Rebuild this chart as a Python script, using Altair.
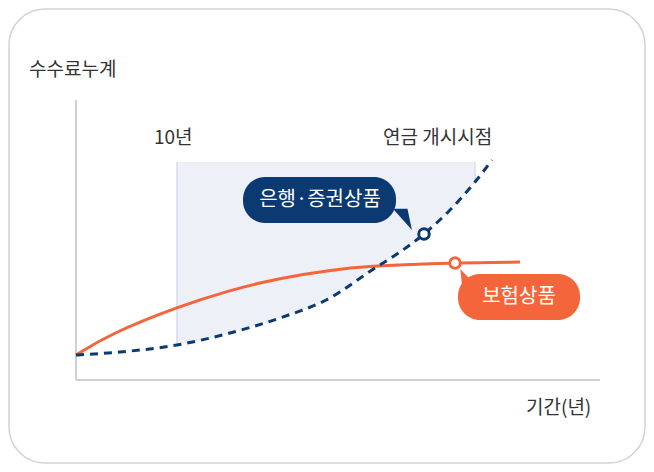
import altair as alt
import pandas as pd

# 그림 좌표(픽셀 기준) 위에 그린 개념도
FONT = "Noto Sans CJK KR"

blue_x = [76, 120, 177, 230, 280, 330, 372, 400, 424, 450, 475, 492]
blue_y = [355, 352, 345, 333, 318, 298, 270, 252, 234, 210, 182, 160]
orange_x = [76, 110, 177, 230, 280, 330, 372, 420, 455, 520]
orange_y = [355, 334, 307, 290, 278, 270, 266, 264, 263, 262]

band_x = [177, 230, 280, 330, 372, 400, 424, 450, 475]
band_bottom = [345, 333, 318, 298, 270, 252, 234, 210, 182]
band_top = 162

xs = alt.Scale(domain=[8, 646], nice=False, zero=False)
ys = alt.Scale(domain=[8, 464], nice=False, zero=False, reverse=True)
X = lambda f: alt.X(f, scale=xs, axis=None)
Y = lambda f: alt.Y(f, scale=ys, axis=None)

blue = pd.DataFrame({"x": blue_x, "y": blue_y})
orange = pd.DataFrame({"x": orange_x, "y": orange_y})
band = pd.DataFrame({"x": band_x, "y": [band_top] * len(band_x), "y2": band_bottom})

frame = alt.Chart(pd.DataFrame({"x": [9], "y": [9], "x2": [645], "y2": [463]})).mark_rect(
    fill="white", stroke="#cfd2d6", strokeWidth=1.5, cornerRadius=36
).encode(x=X("x"), y=Y("y"), x2="x2", y2="y2")

area = alt.Chart(band).mark_area(color="#edf1f7", interpolate="monotone").encode(
    x=X("x"), y=Y("y"), y2="y2")

edges = alt.Chart(pd.DataFrame({"x": [177, 475], "y": [162, 162], "y2": [345, 182]})).mark_rule(
    color="#d3dceb", strokeWidth=1.5).encode(x=X("x"), y=Y("y"), y2="y2")

axes = alt.Chart(pd.DataFrame({"x": [76, 76], "y": [100, 380], "x2": [76, 600], "y2": [380, 380]})).mark_rule(
    color="#cdd1d6", strokeWidth=2).encode(x=X("x"), y=Y("y"), x2="x2", y2="y2")

blue_line = alt.Chart(blue).mark_line(color="#0b3a73", strokeWidth=3, strokeDash=[8, 6],
                                      interpolate="monotone").encode(x=X("x"), y=Y("y"))
orange_line = alt.Chart(orange).mark_line(color="#f5653b", strokeWidth=3,
                                          interpolate="basis").encode(x=X("x"), y=Y("y"))

dots = alt.Chart(pd.DataFrame({"x": [424, 455], "y": [234, 263], "c": ["#0b3a73", "#f5653b"]})).mark_point(
    filled=False, fill="white", size=110, strokeWidth=3, opacity=1).encode(
    x=X("x"), y=Y("y"), stroke=alt.Color("c:N", scale=None))

bubbles = pd.DataFrame({
    "x": [243, 458], "y": [177, 274], "x2": [396, 580], "y2": [223, 320],
    "c": ["#0b3a73", "#f5653b"],
})
bubble_rects = alt.Chart(bubbles).mark_rect(cornerRadius=22).encode(
    x=X("x"), y=Y("y"), x2="x2", y2="y2", color=alt.Color("c:N", scale=None))

blue_tail = alt.Chart(pd.DataFrame({"x": [403], "y": [220]})).mark_point(
    shape="M -0.9 -1 L 0.8 0.9 L 0.4 -1 Z", size=500, filled=True, color="#0b3a73",
    opacity=1, strokeWidth=0).encode(x=X("x"), y=Y("y"))
orange_tail = alt.Chart(pd.DataFrame({"x": [467], "y": [276]})).mark_point(
    shape="M -0.7 1 L -0.9 -0.9 L 1 1 Z", size=220, filled=True, color="#f5653b",
    opacity=1, strokeWidth=0).encode(x=X("x"), y=Y("y"))

bubble_text = alt.Chart(pd.DataFrame({"x": [320, 519], "y": [200, 297], "t": ["은행·증권상품", "보험상품"]})).mark_text(
    font=FONT, fontSize=20, color="white", align="center", baseline="middle").encode(
    x=X("x"), y=Y("y"), text="t")

labels = pd.DataFrame({
    "x": [29, 154, 383, 526],
    "y": [70, 138, 138, 408],
    "t": ["수수료누계", "10년", "연금 개시시점", "기간(년)"],
})
label_text = alt.Chart(labels).mark_text(
    font=FONT, fontSize=19, color="#333333", align="left", baseline="middle").encode(
    x=X("x"), y=Y("y"), text="t")

chart = alt.layer(frame, area, edges, axes, orange_line, blue_line, dots,
                  blue_tail, orange_tail, bubble_rects, bubble_text, label_text).properties(
    width=638, height=456, padding=0, autosize=alt.AutoSizeParams(type="none"),
    background="white"
).configure_view(stroke=None)

chart.save("out.html", embed_options={"renderer": "svg", "actions": False})
